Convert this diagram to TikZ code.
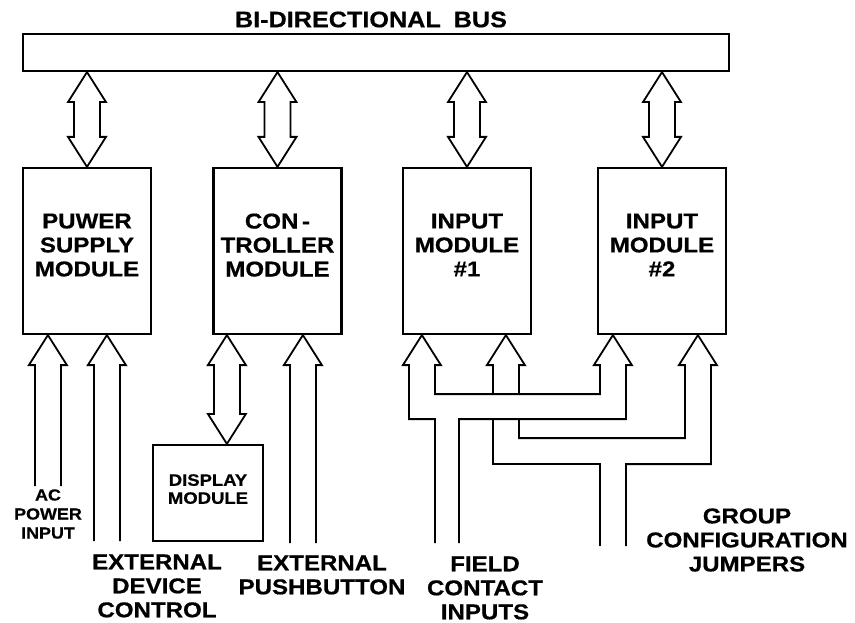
\documentclass[tikz,border=0pt]{standalone}
\usepackage{fontspec}
\usetikzlibrary{calc}
\newfontfamily\blockfont{Liberation Sans}[FakeStretch=1.12, BoldFeatures={FakeBold=0.6}]

% hollow arrow pointing up at #1, open tail #2 below the tip
\newcommand{\fatup}[2]{%
  \draw[pipe] ($(#1)+(-13,#2)$) -- ($(#1)+(-13,30)$) -- ++(-6,0) -- (#1)
    -- ++(19,30) -- ++(-6,0) -- ($(#1)+(13,#2)$);}
% hollow double arrow from tip #1 down to tip #2
\newcommand{\fatboth}[2]{%
  \draw[pipe] (#1) -- ++(19,30) -- ++(-6,0) -- ($(#2)+(13,-30)$) -- ++(6,0)
    -- (#2) -- ++(-19,-30) -- ++(6,0) -- ($(#1)+(-13,30)$) -- ++(-6,0) -- cycle;}

\begin{document}
\begin{tikzpicture}[x=1pt, y=-1pt,
    pipe/.style={line width=1.8pt, line join=miter},
    module/.style={draw, line width=2.2pt, minimum width=128pt, minimum height=166pt,
        text depth=12pt, align=center, font=\blockfont\bfseries\fontsize{21.5}{24}\selectfont},
    dispbox/.style={draw, line width=2.2pt, minimum width=110pt, minimum height=96pt,
        text depth=8pt, align=center, font=\blockfont\bfseries\fontsize{16.5}{18}\selectfont},
    biglbl/.style={align=center, font=\blockfont\bfseries\fontsize{21.5}{24}\selectfont},
    smalllbl/.style={align=center, font=\blockfont\bfseries\fontsize{16}{19}\selectfont}]
    \useasboundingbox (0,0) rectangle (855,623);

    \node[biglbl, font=\blockfont\bfseries\fontsize{22.5}{24}\selectfont] (title) at (371,19.5)
        {BI-DIRECTIONAL\hspace{13pt}BUS};
    \node[draw, line width=2.2pt, minimum width=706pt, minimum height=37pt] (bus) at (376,52.5) {};

    \node[module] (psu) at (87,251) {PUWER\\SUPPLY\\MODULE};
    \node[module] (ctrl) at (277.5,251) {CON\,-\\TROLLER\\MODULE};
    \node[module] (inmod1) at (467,251) {INPUT\\MODULE\\\#1};
    \node[module] (inmod2) at (662,251) {INPUT\\MODULE\\\#2};
    \node[dispbox] (disp) at (208,493) {DISPLAY\\MODULE};

    % bus links
    \foreach \m in {psu,ctrl,inmod1,inmod2} {
        \coordinate (b-\m) at (bus.south -| \m.north);
        \fatboth{b-\m}{\m.north}
    }

    \coordinate (pa) at ($(psu.south west)+(26,0)$);
    \coordinate (pb) at ($(psu.south west)+(85,0)$);
    \coordinate (cd) at ($(ctrl.south west)+(14.5,0)$);
    \coordinate (cp) at ($(ctrl.south west)+(90.5,0)$);
    \coordinate (ta) at ($(inmod1.south west)+(20,0)$);
    \coordinate (tb) at ($(inmod1.south west)+(104,0)$);
    \coordinate (tc) at ($(inmod2.south west)+(16,0)$);
    \coordinate (td) at ($(inmod2.south west)+(101,0)$);
    \coordinate (fc) at ($(ta)+(25,208)$);
    \coordinate (jc) at ($(tc)+(0,211)$);
    \coordinate (dt) at (cd |- disp.north);

    \fatup{pa}{151}
    \fatup{pb}{206}
    \fatboth{cd}{dt}
    \fatup{cp}{208}

    % field inputs to A and C
    \draw[pipe] ($(fc)+(-12,0)$) |- ($(ta)+(-13,84)$) -- ++(0,-54) -- ++(-6,0) -- (ta)
        -- ++(19,30) -- ++(-6,0) |- ($(tc)+(-13,59)$) -- ++(0,-29) -- ++(-6,0) -- (tc)
        -- ++(19,30) -- ++(-6,0) |- ($(fc)+(12,-124)$) -- ($(fc)+(12,0)$);
    % jumpers to B and D
    \draw[pipe] ($(tb)+(-13,59)$) -- ++(0,-29) -- ++(-6,0) -- (tb) -- ++(19,30) -- ++(-6,0) -- ++(0,29);
    \draw[pipe] ($(tb)+(-13,84)$) |- ($(jc)+(-13,-82)$) -- ($(jc)+(-13,0)$);
    \draw[pipe] ($(tb)+(13,84)$) |- ($(td)+(-13,103)$) -- ++(0,-73) -- ++(-6,0) -- (td)
        -- ++(19,30) -- ++(-6,0) |- ($(jc)+(13,-82)$) -- ($(jc)+(13,0)$);

    \node[smalllbl] (aclbl) at (48,514) {AC\\POWER\\INPUT};
    \node[biglbl] (devlbl) at (157,586) {EXTERNAL\\DEVICE\\CONTROL};
    \node[biglbl] (pblbl) at (322,575) {EXTERNAL\\PUSHBUTTON};
    \node[biglbl] (fieldlbl) at (485,588) {FIELD\\CONTACT\\INPUTS};
    \node[biglbl] (jmplbl) at (747,540) {GROUP\\CONFIGURATION\\JUMPERS};
\end{tikzpicture}
\end{document}
